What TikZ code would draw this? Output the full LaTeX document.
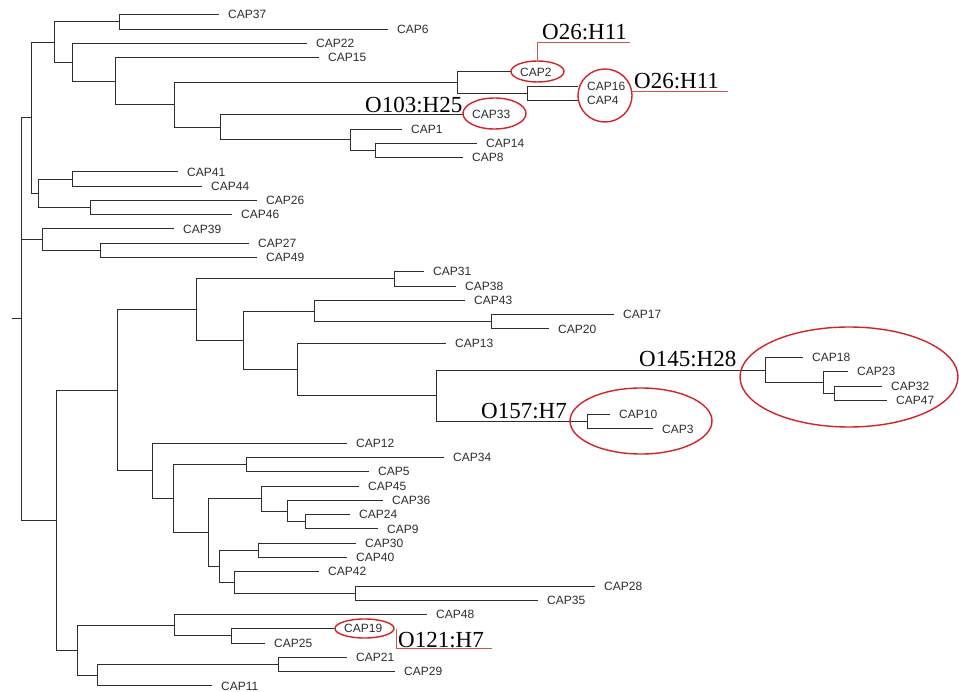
\documentclass[tikz,border=0pt]{standalone}
\usepackage{fontspec}
\setmainfont{Liberation Serif}
\newfontfamily\capfont{Liberation Sans}
\usetikzlibrary{shapes.geometric,calc}
\definecolor{tree}{RGB}{45,45,45}
\definecolor{ered}{RGB}{210,35,40}
\definecolor{lred}{RGB}{205,85,85}
\newcommand\inode[4]{\coordinate (tmp) at ($(#3)!.5!(#4)$); \coordinate (#1) at (tmp -| #2,0);}
\begin{document}
\begin{tikzpicture}[x=1pt,y=-1pt,
  br/.style={draw=tree,line width=1pt},
  lab/.style={font=\capfont\fontsize{12}{12}\selectfont,text=tree,anchor=west,inner sep=0pt},
  ell/.style={ellipse,draw=ered,line width=1.4pt,inner sep=0pt},
  sero/.style={font=\fontsize{23}{23}\selectfont,anchor=base west,inner sep=0pt},
  rl/.style={draw=lred,line width=0.8pt}]
\useasboundingbox (0,0) rectangle (959,692);
% leaves
\foreach \n/\x [count=\i from 0] in {CAP37/219,CAP6/388,CAP22/307,CAP15/319,CAP2/511,CAP16/578,CAP4/578,CAP33/463,CAP1/402,CAP14/477,CAP8/463,CAP41/178,CAP44/202,CAP26/257,CAP46/232,CAP39/174,CAP27/249,CAP49/257,CAP31/424,CAP38/456,CAP43/465,CAP17/614,CAP20/549,CAP13/446,CAP18/803,CAP23/848,CAP32/882,CAP47/887,CAP10/610,CAP3/653,CAP12/347,CAP34/444,CAP5/369,CAP45/359,CAP36/383,CAP24/350,CAP9/378,CAP30/356,CAP40/347,CAP42/319,CAP28/595,CAP35/538,CAP48/427,CAP19/335,CAP25/265,CAP21/347,CAP29/395,CAP11/212}{
  \coordinate (\n) at (\x,{14.8+14.28*\i});
  \node[lab] (t\n) at (\x+9,{14.8+14.28*\i}) {\n};
}
% internal nodes
\inode{n14}{375}{CAP14}{CAP8}
\inode{n1}{350}{CAP1}{n14}
\inode{A12112}{220}{CAP33}{n1}
\inode{n16}{527}{CAP16}{CAP4}
\inode{A12111}{457}{CAP2}{n16}
\inode{A1211}{174}{A12111}{A12112}
\inode{A121}{115}{CAP15}{A1211}
\inode{A12}{72}{CAP22}{A121}
\inode{A11}{119}{CAP37}{CAP6}
\inode{A1}{54}{A11}{A12}
\inode{n41}{72}{CAP41}{CAP44}
\inode{n26}{90}{CAP26}{CAP46}
\inode{A2}{38}{n41}{n26}
\inode{A}{31}{A1}{A2}
\inode{n27}{100}{CAP27}{CAP49}
\inode{B39}{42}{CAP39}{n27}
\inode{n31}{394}{CAP31}{CAP38}
\inode{n17}{491}{CAP17}{CAP20}
\inode{n43}{314}{CAP43}{n17}
\inode{n32}{834}{CAP32}{CAP47}
\inode{n23}{823}{CAP23}{n32}
\inode{n18}{765}{CAP18}{n23}
\inode{n10}{587}{CAP10}{CAP3}
\inode{n145}{436}{n18}{n10}
\inode{C1122}{297}{CAP13}{n145}
\inode{C112}{243}{n43}{C1122}
\inode{C11}{196}{n31}{C112}
\inode{n34}{246}{CAP34}{CAP5}
\inode{n24}{305}{CAP24}{CAP9}
\inode{n36}{287}{CAP36}{n24}
\inode{n45b}{261}{CAP45}{n36}
\inode{n30b}{258}{CAP30}{CAP40}
\inode{n28}{355}{CAP28}{CAP35}
\inode{n42}{234}{CAP42}{n28}
\inode{n30}{219}{n30b}{n42}
\inode{n45}{208}{n45b}{n30}
\inode{n5}{173}{n34}{n45}
\inode{C12}{152}{CAP12}{n5}
\inode{C1}{117}{C11}{C12}
\inode{n19}{231}{CAP19}{CAP25}
\inode{n48}{174}{CAP48}{n19}
\inode{n21b}{278}{CAP21}{CAP29}
\inode{n21}{97}{n21b}{CAP11}
\inode{C2}{77}{n48}{n21}
\inode{C}{56}{C1}{C2}
\inode{R}{21}{A}{C}
\coordinate (T) at (R -| 12,0);
% branches
\draw[br] (T) -- (R);
\foreach \p/\c in {R/A,R/B39,R/C,A/A1,A/A2,A1/A11,A1/A12,A11/CAP37,A11/CAP6,A12/CAP22,A12/A121,A121/CAP15,A121/A1211,A1211/A12111,A1211/A12112,A12111/CAP2,A12111/n16,n16/CAP16,n16/CAP4,A12112/CAP33,A12112/n1,n1/CAP1,n1/n14,n14/CAP14,n14/CAP8,A2/n41,A2/n26,n41/CAP41,n41/CAP44,n26/CAP26,n26/CAP46,B39/CAP39,B39/n27,n27/CAP27,n27/CAP49,C/C1,C/C2,C1/C11,C1/C12,C11/n31,C11/C112,n31/CAP31,n31/CAP38,C112/n43,C112/C1122,n43/CAP43,n43/n17,n17/CAP17,n17/CAP20,C1122/CAP13,C1122/n145,n145/n18,n145/n10,n18/CAP18,n18/n23,n23/CAP23,n23/n32,n32/CAP32,n32/CAP47,n10/CAP10,n10/CAP3,C12/CAP12,C12/n5,n5/n34,n5/n45,n34/CAP34,n34/CAP5,n45/n45b,n45/n30,n45b/CAP45,n45b/n36,n36/CAP36,n36/n24,n24/CAP24,n24/CAP9,n30/n30b,n30/n42,n30b/CAP30,n30b/CAP40,n42/CAP42,n42/n28,n28/CAP28,n28/CAP35,C2/n48,C2/n21,n48/CAP48,n48/n19,n19/CAP19,n19/CAP25,n21/n21b,n21/CAP11,n21b/CAP21,n21b/CAP29}
  \draw[br] (\p) |- (\c);
% ellipses
\node[ell,minimum width=53pt,minimum height=21pt] (e2) at (537.5,71.5) {};
\node[ell,minimum width=54pt,minimum height=53pt] (e16) at (605,95.5) {};
\node[ell,minimum width=63pt,minimum height=31pt] (e33) at (494.5,113.5) {};
\node[ell,minimum width=59pt,minimum height=19pt] (e19) at (364.5,628.5) {};
\node[ell,minimum width=142pt,minimum height=66pt] (e10) at (641,421) {};
\node[ell,minimum width=218pt,minimum height=100pt] (e18) at (849,377) {};
% serotype labels
\node[sero] (s1) at (542,40) {O26:H11};
\node[sero] (s2) at (634,89) {O26:H11};
\node[sero] (s3) at (365,113) {O103:H25};
\node[sero] (s4) at (639,367) {O145:H28};
\node[sero] (s5) at (481,419) {O157:H7};
\node[sero] (s6) at (398,647) {O121:H7};
% leader lines
\coordinate (c1) at (630,42);
\coordinate (c2) at (728,92);
\coordinate (c3) at (492,648);
\draw[rl] (e2.north) |- (c1);
\draw[rl] (e16.8) -- (e16.8 -| c2);
\draw[rl] ([xshift=1.5pt]e19.east) |- (c3);
\end{tikzpicture}
\end{document}
